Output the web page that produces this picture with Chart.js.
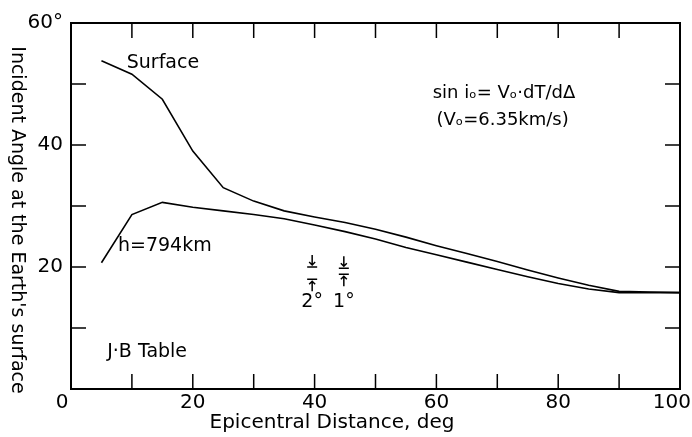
<!DOCTYPE html>
<html>
<head>
<meta charset="utf-8">
<script src="https://cdn.jsdelivr.net/npm/chart.js@4/dist/chart.umd.min.js"></script>
<style>
  html, body { margin: 0; padding: 0; background: #fff; }
  #wrap { width: 692px; height: 437px; }
</style>
</head>
<body>
<div id="wrap"><canvas id="chart" width="692" height="437"></canvas></div>
<script>
// epicentral distance, deg
var distances = [5, 10, 15, 20, 25, 30, 35, 40, 45, 50, 55, 60, 65, 70, 75, 80, 85, 90, 95, 100];
// incident angle at the surface, deg (J-B table)
var surfaceAngles = [53.8, 51.6, 47.5, 39.0, 33.0, 30.8, 29.2, 28.2, 27.3, 26.2, 24.9, 23.5, 22.2, 20.9, 19.5, 18.2, 17.0, 16.0, 15.9, 15.8];
var deepAngles    = [20.7, 28.6, 30.6, 29.8, 29.2, 28.6, 27.9, 26.9, 25.8, 24.6, 23.2, 22.0, 20.8, 19.6, 18.4, 17.3, 16.4, 15.8, 15.8, 15.8];

var xTickLabels = { 20: '20', 40: '40', 60: '60', 80: '80' };
var xEndLabels = [0, 100];
var yTickLabels = { 20: '20', 40: '40', 60: '60°' };

var FONT = '"DejaVu Sans", sans-serif';

function toPoints(xs, ys) {
    var pts = [];
    for (var i = 0; i < xs.length; i++) {
        pts.push({ x: xs[i], y: ys[i] });
    }
    return pts;
}

// frame, inward ticks, labels and the 2°/1° scale bars
var decorations = {
    id: 'decorations',
    afterDraw: function(chart) {
        var c = chart.ctx;
        var xs = chart.scales.x, ys = chart.scales.y;
        var a = chart.chartArea;
        c.save();
        c.strokeStyle = '#000';
        c.fillStyle = '#000';

        // box
        c.lineWidth = 2;
        c.strokeRect(a.left, a.top, a.right - a.left, a.bottom - a.top);

        // inward ticks
        c.lineWidth = 1.5;
        c.beginPath();
        for (var v = 10; v < 100; v += 10) {
            var px = xs.getPixelForValue(v);
            c.moveTo(px, a.bottom); c.lineTo(px, a.bottom - 15);
            c.moveTo(px, a.top);    c.lineTo(px, a.top + 15);
        }
        for (var w = 10; w < 60; w += 10) {
            var py = ys.getPixelForValue(w);
            c.moveTo(a.left, py);  c.lineTo(a.left + 15, py);
            c.moveTo(a.right, py); c.lineTo(a.right - 15, py);
        }
        c.stroke();

        // end labels of the distance axis sit just inside the corners
        c.textBaseline = 'middle';
        c.font = '20px ' + FONT;
        c.textAlign = 'center';
        c.fillText(String(xEndLabels[0]), xs.getPixelForValue(xEndLabels[0]) - 9, a.bottom + 14);
        c.textAlign = 'right';
        c.fillText(String(xEndLabels[1]), xs.getPixelForValue(xEndLabels[1]) + 11, a.bottom + 14);

        // text inside the plot
        c.textAlign = 'center';
        c.font = '19px ' + FONT;
        c.fillText('Surface', xs.getPixelForValue(15.1), ys.getPixelForValue(53.5));
        c.fillText('h=794km', xs.getPixelForValue(15.4), ys.getPixelForValue(23.4));
        c.fillText('J·B Table', xs.getPixelForValue(12.5), ys.getPixelForValue(6.1));
        c.textAlign = 'left';
        c.font = '18px ' + FONT;
        c.fillText('sin iₒ= Vₒ·dT/dΔ', xs.getPixelForValue(59.4), ys.getPixelForValue(48.5));
        c.fillText('(Vₒ=6.35km/s)', xs.getPixelForValue(60.0), ys.getPixelForValue(44.1));

        // scale bars
        drawBar(c, xs, ys, 39.6, 20.0, 18.0);
        drawBar(c, xs, ys, 44.8, 19.8, 18.8);
        c.textAlign = 'center';
        c.font = '19px ' + FONT;
        c.fillText('2°', xs.getPixelForValue(39.6), ys.getPixelForValue(14.3));
        c.fillText('1°', xs.getPixelForValue(44.8), ys.getPixelForValue(14.3));

        // axis titles
        c.font = '20px ' + FONT;
        c.textAlign = 'center';
        c.fillText('Epicentral Distance, deg', 332, 423);
        c.translate(17, 220);
        c.rotate(Math.PI / 2);
        c.font = '19px ' + FONT;
        c.fillText("Incident Angle at the Earth's surface", 0, 0);
        c.restore();
    }
};

function drawBar(c, xs, ys, x, hi, lo) {
    var px = xs.getPixelForValue(x);
    var yHi = ys.getPixelForValue(hi);
    var yLo = ys.getPixelForValue(lo);
    c.lineWidth = 1.5;
    c.beginPath();
    c.moveTo(px - 5, yHi); c.lineTo(px + 5, yHi);
    c.moveTo(px - 5, yLo); c.lineTo(px + 5, yLo);
    // down arrow
    c.moveTo(px, yHi - 12); c.lineTo(px, yHi - 2);
    c.moveTo(px - 3, yHi - 5); c.lineTo(px, yHi - 2); c.lineTo(px + 3, yHi - 5);
    // up arrow
    c.moveTo(px, yLo + 12); c.lineTo(px, yLo + 2);
    c.moveTo(px - 3, yLo + 5); c.lineTo(px, yLo + 2); c.lineTo(px + 3, yLo + 5);
    c.stroke();
}

var ctx = document.getElementById('chart').getContext('2d');
var chart = new Chart(ctx, {
    type: 'line',
    data: {
        datasets: [
            {
                label: 'Surface',
                data: toPoints(distances, surfaceAngles),
                borderColor: '#000',
                borderWidth: 1.6,
                pointRadius: 0,
                tension: 0,
                fill: false
            },
            {
                label: 'h=794km',
                data: toPoints(distances, deepAngles),
                borderColor: '#000',
                borderWidth: 1.6,
                pointRadius: 0,
                tension: 0,
                fill: false
            }
        ]
    },
    options: {
        responsive: false,
        animation: false,
        layout: { padding: { left: 0, top: 23, right: 12, bottom: 0 } },
        plugins: {
            legend: { display: false },
            tooltip: { enabled: false }
        },
        scales: {
            x: {
                type: 'linear',
                min: 0,
                max: 100,
                grid: { display: false, drawTicks: false },
                border: { display: false },
                ticks: {
                    stepSize: 10,
                    autoSkip: false,
                    maxRotation: 0,
                    padding: 2,
                    color: '#000',
                    font: { family: FONT, size: 20 },
                    callback: function(v) { return xTickLabels[v] || ''; }
                },
                afterFit: function(s) {
                    s.height = 48;
                    s.paddingLeft = 0;
                    s.paddingRight = 0;
                }
            },
            y: {
                min: 0,
                max: 60,
                grid: { display: false, drawTicks: false },
                border: { display: false },
                ticks: {
                    stepSize: 10,
                    autoSkip: false,
                    padding: 8,
                    color: '#000',
                    font: { family: FONT, size: 20 },
                    callback: function(v) { return yTickLabels[v] || ''; }
                },
                afterFit: function(s) {
                    s.width = 71;
                    s.paddingTop = 0;
                    s.paddingBottom = 0;
                }
            }
        }
    },
    plugins: [decorations]
});
</script>
</body>
</html>
